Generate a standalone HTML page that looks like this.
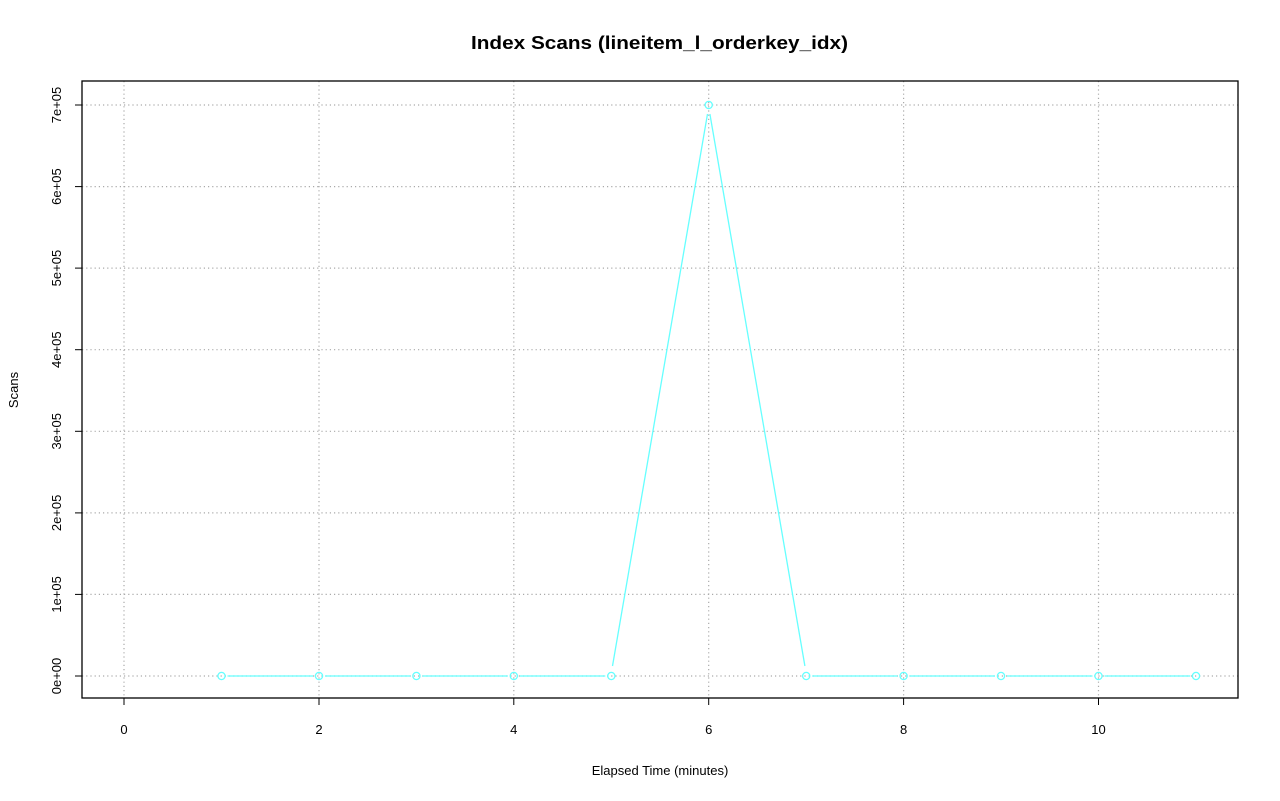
<!DOCTYPE html>
<html><head><meta charset="utf-8"><style>
html,body{margin:0;padding:0;background:#fff;}
svg{display:block;font-family:"Liberation Sans",sans-serif;}
</style></head><body>
<svg width="1280" height="801" viewBox="0 0 1280 801">
<rect width="1280" height="801" fill="#fff"/>
<text x="471" y="49" font-size="18" font-weight="bold" textLength="377" lengthAdjust="spacingAndGlyphs">Index Scans (lineitem_l_orderkey_idx)</text>
<g stroke="#aaa" stroke-width="1.2" stroke-dasharray="1.2,3">
<line x1="124" y1="81" x2="124" y2="698"/><line x1="319" y1="81" x2="319" y2="698"/>
<line x1="513.8" y1="81" x2="513.8" y2="698"/><line x1="708.7" y1="81" x2="708.7" y2="698"/>
<line x1="903.6" y1="81" x2="903.6" y2="698"/><line x1="1098.5" y1="81" x2="1098.5" y2="698"/>
<line x1="82" y1="676" x2="1238" y2="676"/><line x1="82" y1="594.4" x2="1238" y2="594.4"/>
<line x1="82" y1="512.9" x2="1238" y2="512.9"/><line x1="82" y1="431.3" x2="1238" y2="431.3"/>
<line x1="82" y1="349.7" x2="1238" y2="349.7"/><line x1="82" y1="268.1" x2="1238" y2="268.1"/>
<line x1="82" y1="186.6" x2="1238" y2="186.6"/><line x1="82" y1="105" x2="1238" y2="105"/>
</g>
<rect x="82" y="81" width="1156" height="617" fill="none" stroke="#000" stroke-width="1.3"/>
<g stroke="#000" stroke-width="1">
<line x1="124" y1="698" x2="124" y2="705"/><line x1="319" y1="698" x2="319" y2="705"/>
<line x1="513.8" y1="698" x2="513.8" y2="705"/><line x1="708.7" y1="698" x2="708.7" y2="705"/>
<line x1="903.6" y1="698" x2="903.6" y2="705"/><line x1="1098.5" y1="698" x2="1098.5" y2="705"/>
<line x1="82" y1="676" x2="75" y2="676"/><line x1="82" y1="594.4" x2="75" y2="594.4"/>
<line x1="82" y1="512.9" x2="75" y2="512.9"/><line x1="82" y1="431.3" x2="75" y2="431.3"/>
<line x1="82" y1="349.7" x2="75" y2="349.7"/><line x1="82" y1="268.1" x2="75" y2="268.1"/>
<line x1="82" y1="186.6" x2="75" y2="186.6"/><line x1="82" y1="105" x2="75" y2="105"/>
</g>
<g font-size="13" text-anchor="middle">
<text x="124" y="734">0</text><text x="319" y="734">2</text><text x="513.8" y="734">4</text>
<text x="708.7" y="734">6</text><text x="903.6" y="734">8</text><text x="1098.5" y="734">10</text>
<text x="660" y="775">Elapsed Time (minutes)</text>
<g transform="rotate(-90)">
<text x="-676" y="61">0e+00</text><text x="-594.4" y="61">1e+05</text><text x="-512.9" y="61">2e+05</text>
<text x="-431.3" y="61">3e+05</text><text x="-349.7" y="61">4e+05</text><text x="-268.1" y="61">5e+05</text>
<text x="-186.6" y="61">6e+05</text><text x="-105" y="61">7e+05</text>
<text x="-390" y="18">Scans</text>
</g>
</g>
<g stroke="#66ffff" stroke-width="1.3" fill="none">
<line x1="227.5" y1="676" x2="313" y2="676"/><line x1="325" y1="676" x2="410.4" y2="676"/>
<line x1="422.4" y1="676" x2="507.8" y2="676"/><line x1="519.8" y1="676" x2="605.3" y2="676"/>
<line x1="612.5" y1="666" x2="707.5" y2="114"/><line x1="709.9" y1="114" x2="804.9" y2="666"/>
<line x1="812.2" y1="676" x2="897.6" y2="676"/><line x1="909.6" y1="676" x2="995" y2="676"/>
<line x1="1007" y1="676" x2="1092.5" y2="676"/><line x1="1104.5" y1="676" x2="1190" y2="676"/>
<circle cx="221.5" cy="676" r="3.6"/><circle cx="319" cy="676" r="3.6"/><circle cx="416.4" cy="676" r="3.6"/>
<circle cx="513.8" cy="676" r="3.6"/><circle cx="611.3" cy="676" r="3.6"/><circle cx="708.7" cy="105" r="3.6"/>
<circle cx="806.2" cy="676" r="3.6"/><circle cx="903.6" cy="676" r="3.6"/><circle cx="1001" cy="676" r="3.6"/>
<circle cx="1098.5" cy="676" r="3.6"/><circle cx="1196" cy="676" r="3.6"/>
</g>
</svg>
</body></html>
